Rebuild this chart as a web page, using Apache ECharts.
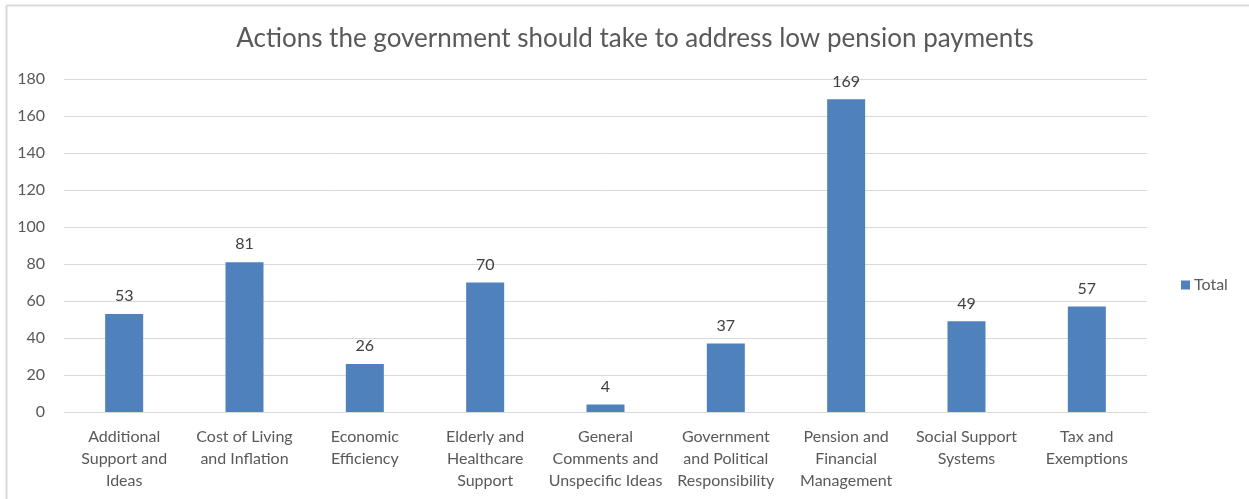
<!DOCTYPE html>
<html>
<head>
<meta charset="utf-8">
<script src="https://cdn.jsdelivr.net/npm/echarts@6/dist/echarts.min.js"></script>
<style>
  html, body { margin: 0; padding: 0; background: #ffffff; }
  #chart { width: 1249px; height: 499px; }
</style>
</head>
<body>
<div id="chart"></div>
<script>
// Response categories (line breaks as shown under each bar)
const categories = [
  'Additional\nSupport and\nIdeas',
  'Cost of Living\nand Inflation',
  'Economic\nEfficiency',
  'Elderly and\nHealthcare\nSupport',
  'General\nComments and\nUnspecific Ideas',
  'Government\nand Political\nResponsibility',
  'Pension and\nFinancial\nManagement',
  'Social Support\nSystems',
  'Tax and\nExemptions'
];

// Number of mentions per category
const totals = [53, 81, 26, 70, 4, 37, 169, 49, 57];

const seriesName = 'Total';
const chartTitle = 'Actions the government should take to address low pension payments';

const FONT = 'Lato, "Open Sans", sans-serif';

const chart = echarts.init(document.getElementById('chart'), null, { renderer: 'canvas' });

chart.setOption({
  animation: false,
  backgroundColor: '#ffffff',
  textStyle: { fontFamily: FONT },
  title: {
    text: chartTitle,
    left: 630,
    textAlign: 'center',
    top: 21,
    textStyle: { fontFamily: FONT, fontSize: 26, fontWeight: 'normal', color: '#595959' }
  },
  legend: {
    data: [seriesName],
    left: 1176,
    top: 272,
    icon: 'rect',
    itemWidth: 9,
    itemHeight: 9,
    itemGap: 5,
    textStyle: { fontFamily: FONT, fontSize: 16, color: '#595959', padding: [0, 0, 0, -1] }
  },
  grid: { left: 64, right: 102, top: 79, bottom: 87, containLabel: false },
  xAxis: {
    type: 'category',
    data: categories,
    axisLine: { show: true, lineStyle: { color: '#d9d9d9', width: 1 } },
    axisTick: { show: false },
    axisLabel: {
      interval: 0,
      margin: 14,
      fontFamily: FONT,
      fontSize: 16,
      lineHeight: 22,
      color: '#595959',
      align: 'center'
    }
  },
  yAxis: {
    type: 'value',
    min: 0,
    max: 180,
    interval: 20,
    axisLine: { show: false },
    axisTick: { show: false },
    splitLine: { lineStyle: { color: '#d9d9d9', width: 1 } },
    axisLabel: { fontFamily: FONT, fontSize: 16, color: '#595959', margin: 19 }
  },
  series: [{
    name: seriesName,
    type: 'bar',
    data: totals,
    barWidth: 38,
    itemStyle: { color: '#4f81bd' },
    label: {
      show: true,
      position: 'top',
      distance: 10,
      fontFamily: FONT,
      fontSize: 16,
      color: '#404040'
    }
  }],
  graphic: [
    // chart frame: top and left edges
    { type: 'line', shape: { x1: 6.5, y1: 5.5, x2: 1249, y2: 5.5 }, style: { stroke: '#d9d9d9', lineWidth: 2 } },
    { type: 'line', shape: { x1: 6.5, y1: 5.5, x2: 6.5, y2: 499 }, style: { stroke: '#d9d9d9', lineWidth: 2 } }
  ]
});
</script>
</body>
</html>
